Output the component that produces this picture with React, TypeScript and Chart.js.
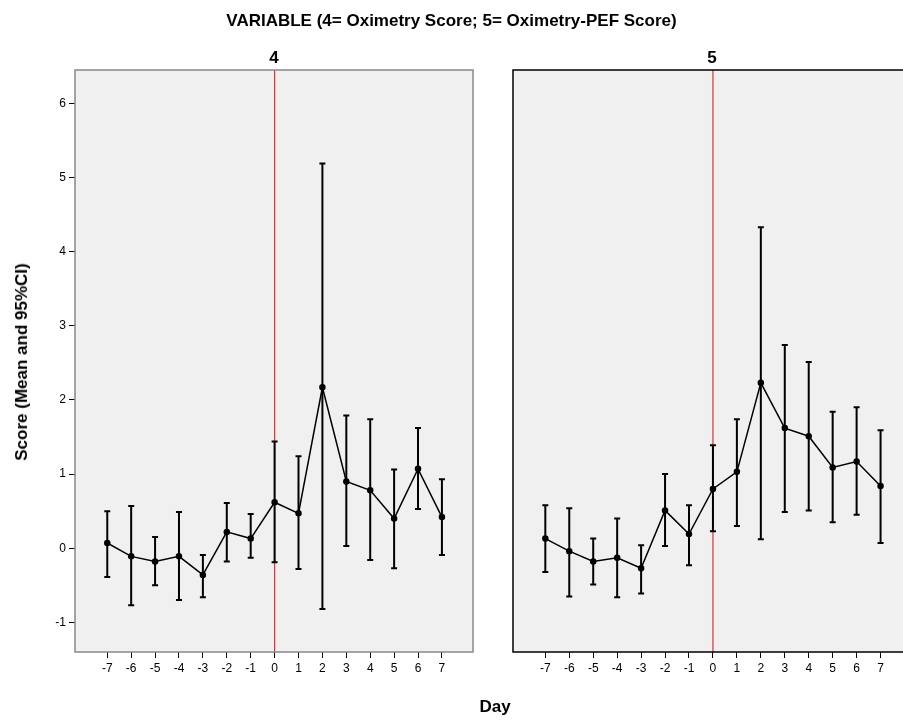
import React, { useEffect, useRef } from "react";
import { Chart, registerables } from "chart.js";

Chart.register(...registerables);

const days = [-7, -6, -5, -4, -3, -2, -1, 0, 1, 2, 3, 4, 5, 6, 7];
const yTicks = [-1, 0, 1, 2, 3, 4, 5, 6];

const meanA = [0.07, -0.11, -0.18, -0.11, -0.36, 0.22, 0.13, 0.62, 0.47, 2.17, 0.9, 0.78, 0.4, 1.07, 0.42];
const lowA = [-0.39, -0.77, -0.5, -0.7, -0.66, -0.18, -0.13, -0.19, -0.28, -0.82, 0.03, -0.16, -0.27, 0.53, -0.09];
const highA = [0.5, 0.57, 0.15, 0.49, -0.09, 0.61, 0.46, 1.44, 1.24, 5.19, 1.79, 1.74, 1.06, 1.62, 0.93];

const meanB = [0.13, -0.04, -0.18, -0.13, -0.27, 0.51, 0.19, 0.8, 1.03, 2.23, 1.62, 1.51, 1.09, 1.17, 0.84];
const lowB = [-0.32, -0.65, -0.49, -0.66, -0.61, 0.03, -0.23, 0.23, 0.3, 0.12, 0.49, 0.51, 0.35, 0.45, 0.07];
const highB = [0.58, 0.54, 0.13, 0.4, 0.04, 1.0, 0.58, 1.39, 1.74, 4.33, 2.74, 2.51, 1.84, 1.9, 1.59];

const FONT = "'Liberation Sans', Arial, sans-serif";

interface PanelProps {
  mean: number[];
  low: number[];
  high: number[];
  showY: boolean;
  xMax: number;
  frameColor: string;
  style: React.CSSProperties;
}

const Panel: React.FC<PanelProps> = ({ mean, low, high, showY, xMax, frameColor, style }) => {
  const ref = useRef<HTMLCanvasElement | null>(null);

  useEffect(() => {
    if (!ref.current) return;
    const deco = {
      id: "deco",
      beforeDatasetsDraw(chart: any) {
        const { ctx, chartArea: a, scales } = chart;
        ctx.save();
        ctx.fillStyle = "#f0f0f0";
        ctx.fillRect(a.left, a.top, a.right - a.left, a.bottom - a.top);
        const x0 = scales.x.getPixelForValue(0);
        ctx.strokeStyle = "#e03030";
        ctx.lineWidth = 1.2;
        ctx.beginPath();
        ctx.moveTo(x0, a.top);
        ctx.lineTo(x0, a.bottom);
        ctx.stroke();
        ctx.strokeStyle = "#000";
        ctx.lineWidth = 2;
        days.forEach((d, i) => {
          const x = scales.x.getPixelForValue(d);
          const yl = scales.y.getPixelForValue(low[i]);
          const yh = scales.y.getPixelForValue(high[i]);
          ctx.beginPath();
          ctx.moveTo(x, yl);
          ctx.lineTo(x, yh);
          ctx.moveTo(x - 3, yl);
          ctx.lineTo(x + 3, yl);
          ctx.moveTo(x - 3, yh);
          ctx.lineTo(x + 3, yh);
          ctx.stroke();
        });
        ctx.restore();
      },
      afterDraw(chart: any) {
        const { ctx, chartArea: a } = chart;
        ctx.save();
        ctx.strokeStyle = frameColor;
        ctx.lineWidth = 1.5;
        ctx.strokeRect(a.left, a.top, a.right - a.left, a.bottom - a.top);
        ctx.restore();
      },
    };
    const chart = new Chart(ref.current, {
      type: "line",
      data: {
        datasets: [
          {
            data: days.map((d, i) => ({ x: d, y: mean[i] })),
            borderColor: "#000",
            backgroundColor: "#000",
            borderWidth: 1.5,
            pointRadius: 2.5,
            tension: 0,
          },
        ],
      },
      options: {
        animation: false,
        responsive: false,
        layout: { padding: { top: 70, bottom: 28, left: showY ? 0 : 23, right: showY ? 17 : 0 } },
        plugins: { legend: { display: false }, tooltip: { enabled: false } },
        scales: {
          x: {
            type: "linear",
            min: -8.35,
            max: xMax,
            afterBuildTicks: (s: any) => {
              s.ticks = days.map((v) => ({ value: v }));
            },
            afterFit: (s: any) => {
              s.height = 40;
            },
            grid: { drawOnChartArea: false, drawTicks: true, tickLength: 6, color: "#000" },
            border: { display: false },
            ticks: { color: "#000", font: { family: FONT, size: 12 }, maxRotation: 0, autoSkip: false },
          },
          y: {
            type: "linear",
            display: showY,
            min: -1.4,
            max: 6.45,
            afterBuildTicks: (s: any) => {
              s.ticks = yTicks.map((v) => ({ value: v }));
            },
            afterFit: (s: any) => {
              s.width = showY ? 75 : 0;
            },
            grid: { drawOnChartArea: false, drawTicks: true, tickLength: 6, color: "#000" },
            border: { display: false },
            ticks: { color: "#000", font: { family: FONT, size: 12 } },
          },
        },
      },
      plugins: [deco],
    } as any);
    return () => {
      chart.destroy();
    };
  }, [mean, low, high, showY, xMax, frameColor]);

  return <canvas ref={ref} width={style.width as number} height={720} style={{ position: "absolute", ...style }} />;
};

const App: React.FC = () => {
  const bold: React.CSSProperties = {
    position: "absolute",
    fontFamily: FONT,
    fontWeight: "bold",
    color: "#000",
    whiteSpace: "nowrap",
  };
  return (
    <div style={{ position: "fixed", left: 0, top: 0, width: 903, height: 720, background: "#fff", overflow: "hidden" }}>
      <Panel mean={meanA} low={lowA} high={highA} showY xMax={8.3} frameColor="#888" style={{ left: 0, top: 0, width: 490 }} />
      <Panel mean={meanB} low={lowB} high={highB} showY={false} xMax={8.0} frameColor="#000" style={{ left: 490, top: 0, width: 420 }} />
      <div style={{ ...bold, left: 0, width: 903, top: 11, textAlign: "center", fontSize: 17 }}>
        VARIABLE (4= Oximetry Score; 5= Oximetry-PEF Score)
      </div>
      <div style={{ ...bold, left: 254, width: 40, top: 48, textAlign: "center", fontSize: 17 }}>4</div>
      <div style={{ ...bold, left: 692, width: 40, top: 48, textAlign: "center", fontSize: 17 }}>5</div>
      <div style={{ ...bold, left: 460, width: 70, top: 697, textAlign: "center", fontSize: 17 }}>Day</div>
      <div
        style={{
          ...bold,
          left: 22,
          top: 362,
          fontSize: 17,
          transform: "translate(-50%, -50%) rotate(-90deg)",
        }}
      >
        Score (Mean and 95%CI)
      </div>
    </div>
  );
};

export default App;
